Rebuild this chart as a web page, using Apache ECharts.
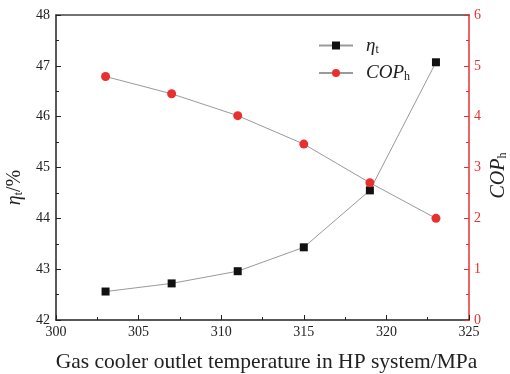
<!DOCTYPE html>
<html>
<head>
<meta charset="utf-8">
<script src="https://cdn.jsdelivr.net/npm/echarts@6/dist/echarts.min.js"></script>
<style>
  html, body { margin: 0; padding: 0; background: #fff; }
  #chart { width: 510px; height: 374px; }
</style>
</head>
<body>
<div id="chart"></div>
<script>
// Gas cooler outlet temperature (x) and the two performance indicators
const temperatures = [303, 307, 311, 315, 319, 323];
const etaT = [42.56, 42.72, 42.96, 43.43, 44.55, 47.07];   // %
const copH = [4.79, 4.45, 4.02, 3.46, 2.70, 2.00];

const xTicks = { min: 300, max: 325, interval: 5 };
const leftTicks = { min: 42, max: 48, interval: 1 };
const rightTicks = { min: 0, max: 6, interval: 1 };

const serif = 'Liberation Serif';
const dark = '#222';
const red = '#e8312e';

const pair = (xs, ys) => xs.map((x, i) => [x, ys[i]]);

const richBase = {
  i: { fontFamily: serif, fontStyle: 'italic', fontSize: 20, color: dark },
  s: { fontFamily: serif, fontSize: 12, color: dark, padding: [9, 0, 0, 0] },
  n: { fontFamily: serif, fontSize: 20, color: dark }
};

const chart = echarts.init(document.getElementById('chart'), null, { renderer: 'canvas' });

chart.setOption({
  animation: false,
  backgroundColor: '#fff',
  grid: { left: 56, right: 41, top: 15, bottom: 54, containLabel: false, outerBoundsMode: 'none' },
  legend: {
    orient: 'vertical',
    left: 313,
    top: 31,
    itemWidth: 34,
    itemHeight: 10,
    itemGap: 8,
    data: ['eta', 'cop'],
    formatter: function (name) {
      return name === 'eta' ? '{i|η}{s|t}' : '{i|COP}{s|h}';
    },
    textStyle: {
      fontFamily: serif,
      color: dark,
      rich: {
        i: { fontFamily: serif, fontStyle: 'italic', fontSize: 19, color: dark, padding: [0, 0, 0, 8] },
        s: { fontFamily: serif, fontSize: 12, color: dark, padding: [8, 0, 0, 0] }
      }
    }
  },
  xAxis: [
    {
      type: 'value',
      min: xTicks.min, max: xTicks.max, interval: xTicks.interval,
      name: 'Gas cooler outlet temperature in HP system/MPa',
      nameLocation: 'middle',
      nameGap: 31,
      nameTextStyle: { fontFamily: serif, fontSize: 21.5, color: dark, padding: [0, 0, 0, 8] },
      axisLine: { lineStyle: { color: dark, width: 1.5 } },
      axisTick: { inside: true, length: 5, lineStyle: { color: dark } },
      minorTick: { show: true, splitNumber: 2, length: 3, lineStyle: { color: dark } },
      axisLabel: { fontFamily: serif, fontSize: 14, color: dark, margin: 5 },
      splitLine: { show: false }
    },
    {
      type: 'value',
      position: 'top',
      min: xTicks.min, max: xTicks.max,
      axisLine: { show: true, lineStyle: { color: '#444', width: 1.5 } },
      axisTick: { show: false },
      axisLabel: { show: false },
      splitLine: { show: false }
    }
  ],
  yAxis: [
    {
      type: 'value',
      min: leftTicks.min, max: leftTicks.max, interval: leftTicks.interval,
      name: '{i|η}{s|t}{n|/%}',
      nameLocation: 'middle',
      nameRotate: 90,
      nameGap: 31,
      nameMoveOverlap: false,
      nameTextStyle: { rich: richBase, padding: [0, 40, 0, 0] },
      axisLine: { show: true, lineStyle: { color: dark, width: 1.5 } },
      axisTick: { inside: true, length: 5, lineStyle: { color: dark } },
      minorTick: { show: true, splitNumber: 2, length: 3, lineStyle: { color: dark } },
      axisLabel: { fontFamily: serif, fontSize: 14, color: dark, margin: 6 },
      splitLine: { show: false }
    },
    {
      type: 'value',
      position: 'right',
      min: rightTicks.min, max: rightTicks.max, interval: rightTicks.interval,
      name: '{i|COP}{s|h}',
      nameLocation: 'middle',
      nameRotate: 90,
      nameGap: 19,
      nameMoveOverlap: false,
      nameTextStyle: { rich: richBase, padding: [0, 16, 0, 0] },
      axisLine: { show: true, lineStyle: { color: red, width: 1.5 } },
      axisTick: { inside: true, length: 5, lineStyle: { color: red } },
      minorTick: { show: true, splitNumber: 2, length: 3, lineStyle: { color: red } },
      axisLabel: { fontFamily: serif, fontSize: 14, color: red, margin: 5 },
      splitLine: { show: false }
    }
  ],
  series: [
    {
      name: 'eta',
      type: 'line',
      yAxisIndex: 0,
      data: pair(temperatures, etaT),
      symbol: 'rect',
      symbolSize: 8,
      itemStyle: { color: '#111' },
      lineStyle: { color: '#9a9a9a', width: 1 }
    },
    {
      name: 'cop',
      type: 'line',
      yAxisIndex: 1,
      data: pair(temperatures, copH),
      symbol: 'circle',
      symbolSize: 9,
      itemStyle: { color: red },
      lineStyle: { color: '#9a9a9a', width: 1 }
    }
  ]
});
</script>
</body>
</html>
